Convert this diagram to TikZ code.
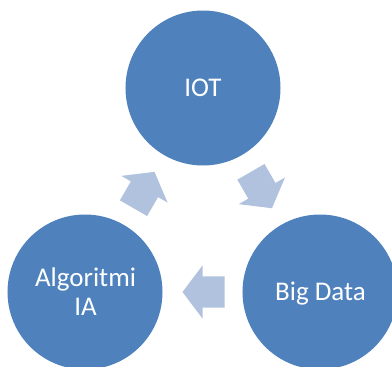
\documentclass[tikz,border=0pt]{standalone}
\usepackage{fontspec}
\setmainfont{Carlito}
\usetikzlibrary{shapes.arrows,calc}
\definecolor{circblue}{HTML}{4F81BD}
\definecolor{arrblue}{HTML}{B0C2DE}
\tikzset{
  bigcirc/.style={circle, fill=circblue, draw=none, minimum size=155bp, inner sep=0pt, outer sep=0pt},
  lbl/.style={text=white, font=\fontsize{27bp}{29bp}\selectfont, inner sep=0pt, anchor=base},
  blockarrow/.style={single arrow, fill=arrblue, draw=none, minimum height=42bp, minimum width=53bp,
     single arrow head extend=11bp, single arrow tip angle=106, inner xsep=0pt, inner ysep=15.5bp, outer sep=0pt}
}
\begin{document}
\begin{tikzpicture}[x=1bp,y=-1bp]
\useasboundingbox (0,0) rectangle (392,367);
\clip (0,0) rectangle (392,367);
\node[bigcirc] (iot) at (203,88) {};
\node[bigcirc] (alg) at (85,292) {};
\node[bigcirc] (big) at (320,292) {};
\node[lbl] (iottxt) at (203,96) {IOT};
\node[lbl] (algtxt) at (85.5,286) {Algoritmi};
\node[lbl] (iatxt) at (85.5,315) {IA};
\node[lbl] (bigtxt) at (320.5,300) {Big Data};
\coordinate (m1) at ($(iot)!0.5!(big)$);
\coordinate (m2) at ($(big)!0.5!(alg)$);
\coordinate (m3) at ($(alg)!0.5!(iot)$);
\node[blockarrow, rotate=-60, anchor=tip] (a1) at ($(m1)!21bp!(big)$) {};
\node[blockarrow, rotate=180, anchor=tip] (a2) at ($(m2)!20bp!(alg)$) {};
\node[blockarrow, rotate=60, anchor=tip] (a3) at ($(m3)!21bp!(iot)$) {};
\end{tikzpicture}
\end{document}
